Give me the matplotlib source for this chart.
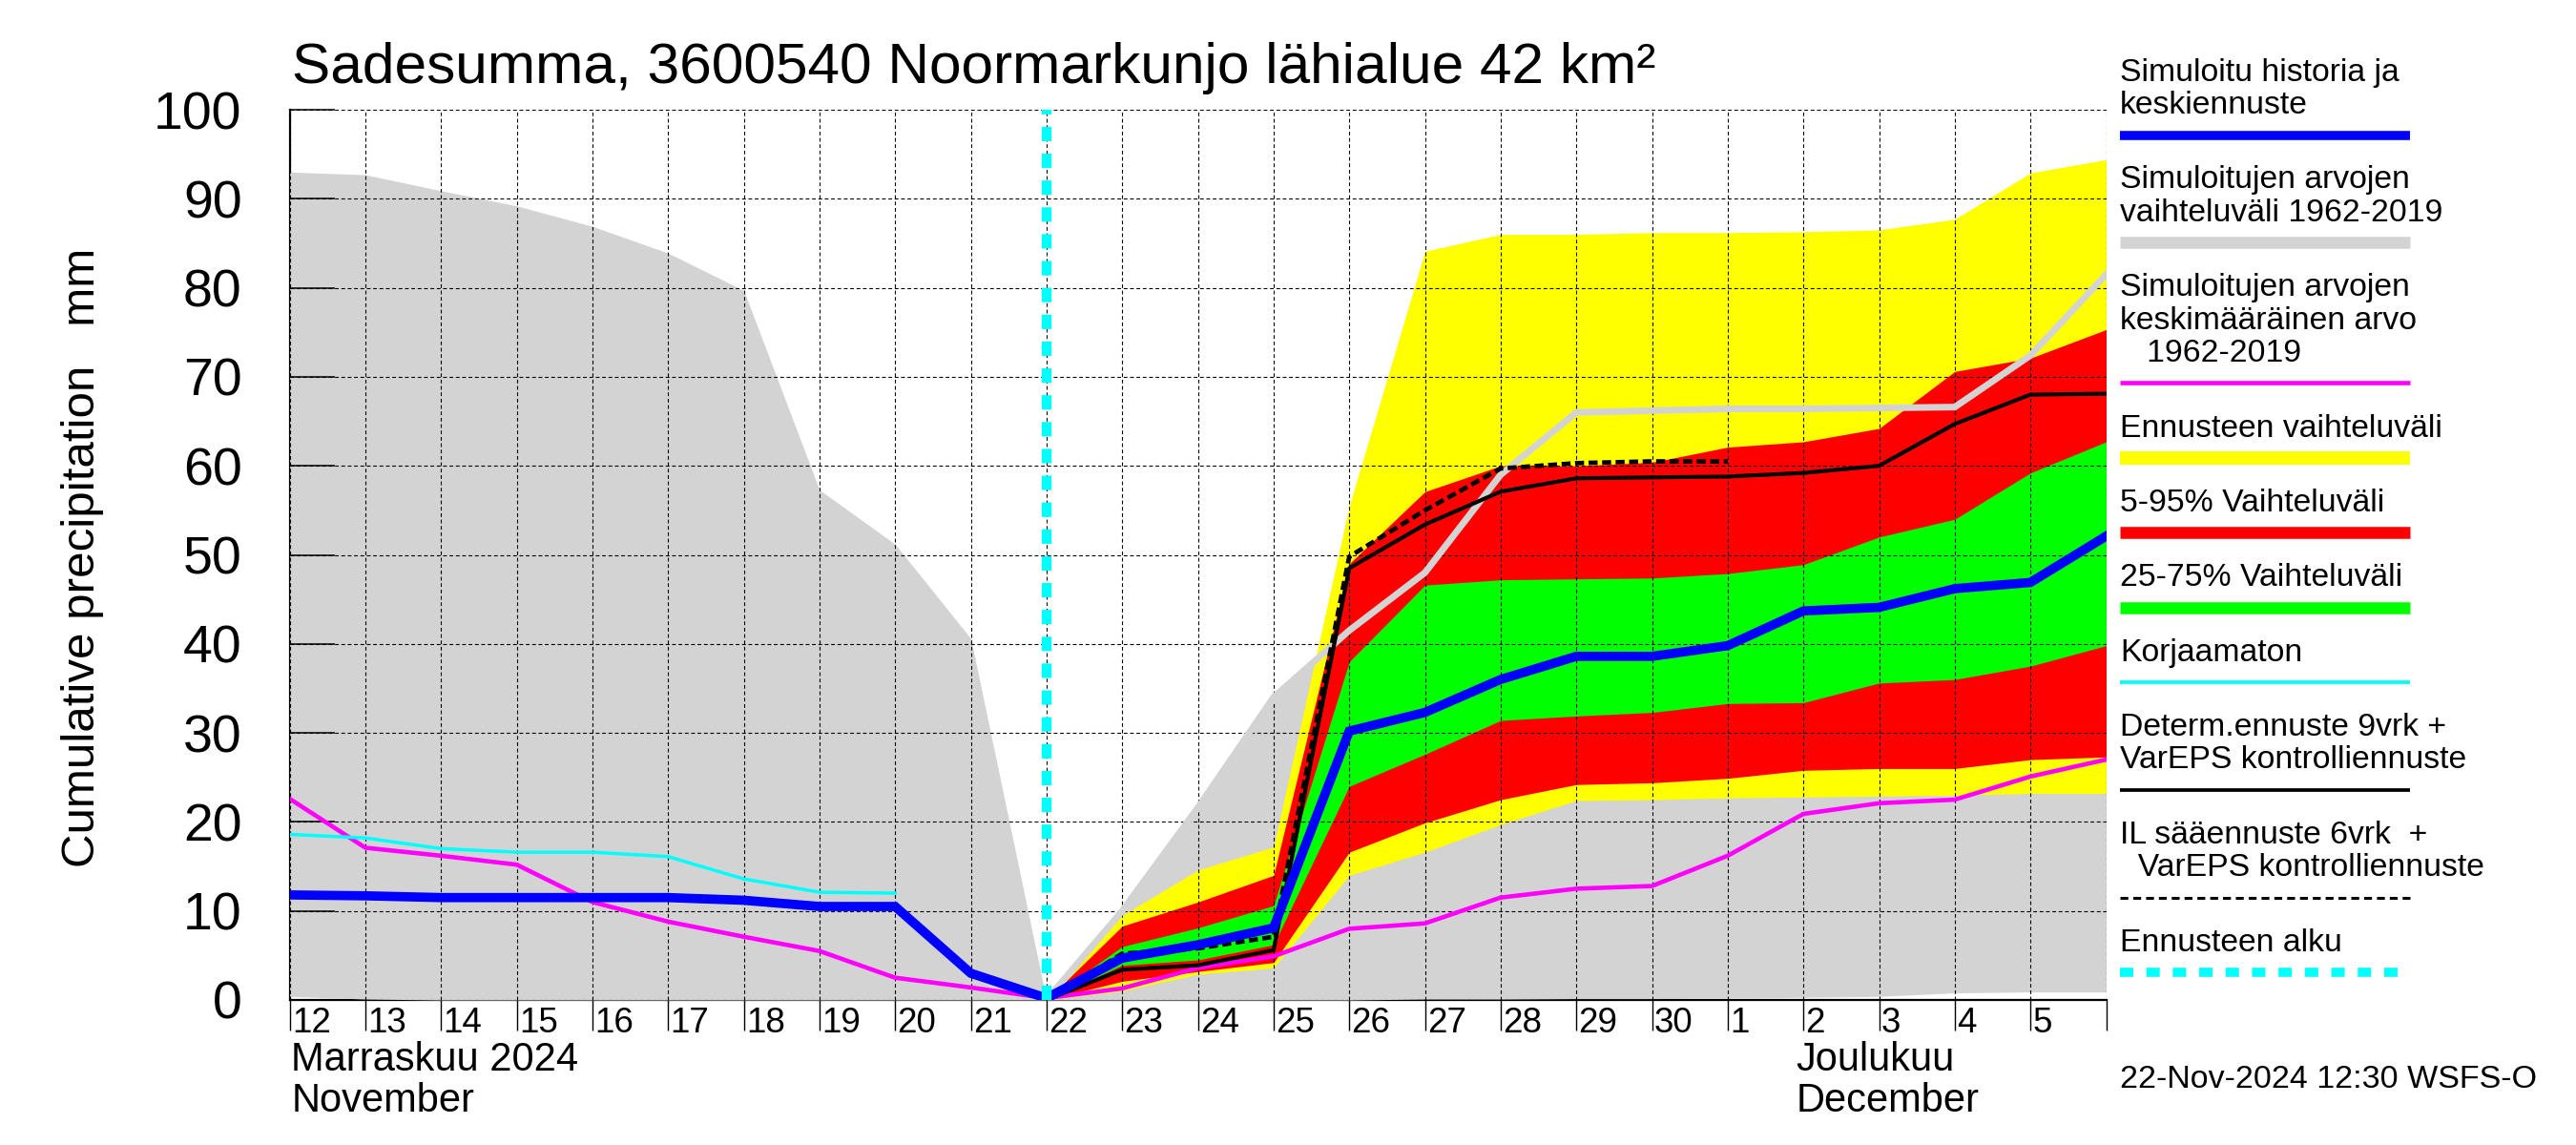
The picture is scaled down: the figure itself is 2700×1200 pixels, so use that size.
import matplotlib
matplotlib.use("Agg")
import matplotlib.pyplot as plt
from matplotlib.lines import Line2D

plt.rcParams['font.family'] = ['Liberation Sans', 'DejaVu Sans']

# päivät 12.11.2024 - 6.12.2024, indeksi 0 = 12.11.
days = list(range(25))
day_labels = ["12", "13", "14", "15", "16", "17", "18", "19", "20", "21", "22",
              "23", "24", "25", "26", "27", "28", "29", "30", "1", "2", "3", "4", "5"]
fc_start = 10  # ennusteen alku 22.11.
fc_days = days[fc_start:]

# simuloitujen arvojen vaihteluväli 1962-2019
hist_hi = [93.0, 92.7, 90.9, 89.2, 86.9, 83.9, 79.7, 57.3, 51.2, 40.6, 0.0,
           10.0, 21.6, 34.0, 41.5, 48.0, 59.0, 66.0, 66.2, 66.4, 66.4, 66.5, 66.6, 72.4, 81.5]
hist_lo = [0.4, 0.1, 0, 0, 0, 0, 0, 0, 0, 0, 0, 0, 0, 0, 0,
           0.1, 0.1, 0.15, 0.15, 0.2, 0.3, 0.4, 0.8, 0.9, 0.9]
# keskimääräinen arvo 1962-2019
hist_mean = [22.6, 17.1, 16.2, 15.2, 11.0, 8.8, 7.1, 5.5, 2.5, 1.4, 0.2,
             1.3, 3.6, 4.9, 8.0, 8.6, 11.5, 12.5, 12.8, 16.2, 20.9, 22.1, 22.5, 25.1, 27.0]
# simuloitu historia ja keskiennuste
sim_mean = [11.8, 11.7, 11.5, 11.5, 11.5, 11.5, 11.2, 10.5, 10.5, 3.0, 0.2,
            4.7, 6.2, 8.1, 30.2, 32.3, 36.0, 38.6, 38.6, 39.8, 43.7, 44.1, 46.2, 46.9, 52.1]
# korjaamaton, 12.-20.11.
korjaamaton = [18.6, 18.2, 17.0, 16.6, 16.6, 16.1, 13.6, 12.1, 12.0]

# ennusteen vaihteluvälit 22.11. -> 6.12.
ens_max = [0, 9.5, 14.6, 17.2, 55.5, 84.1, 86.0, 86.0, 86.2, 86.2, 86.3, 86.5, 87.7, 92.9, 94.4]
ens_min = [0, 1.0, 2.9, 3.6, 14.0, 16.6, 19.7, 22.4, 22.5, 22.7, 22.8, 22.9, 23.0, 23.2, 23.2]
p95 = [0, 8.3, 11.0, 14.0, 49.0, 57.1, 60.0, 60.0, 60.4, 62.1, 62.7, 64.2, 70.6, 72.1, 75.3]
p05 = [0, 2.1, 3.2, 4.2, 16.6, 19.9, 22.5, 24.2, 24.4, 24.9, 25.8, 26.0, 26.0, 27.0, 27.3]
p75 = [0, 6.0, 8.1, 10.6, 38.0, 46.6, 47.2, 47.3, 47.4, 47.9, 48.9, 52.0, 54.0, 59.2, 62.7]
p25 = [0, 3.9, 4.5, 6.2, 24.0, 27.6, 31.4, 31.9, 32.3, 33.3, 33.4, 35.6, 36.0, 37.5, 39.8]
determ = [0, 3.4, 3.9, 5.6, 48.5, 53.4, 57.1, 58.6, 58.7, 58.8, 59.2, 60.0, 64.7, 68.0, 68.1]
il_ennuste = [0, 5.2, 5.8, 7.1, 49.8, 55.0, 59.7, 60.3, 60.5, 60.5]

fig = plt.figure(figsize=(27, 12), dpi=100)
ax = fig.add_axes([303.6 / 2700, 1 - 1048 / 1200, (2207.5 - 303.6) / 2700, 933 / 1200])

ax.fill_between(days, hist_lo, hist_hi, color='#d3d3d3', lw=0, zorder=1)
ax.fill_between(fc_days, ens_min, ens_max, color='#ffff00', lw=0, zorder=1.1)
ax.fill_between(fc_days, p05, p95, color='#ff0000', lw=0, zorder=1.2)
ax.fill_between(fc_days, p25, p75, color='#00ff00', lw=0, zorder=1.3)

ax.plot(fc_days, hist_hi[fc_start:], color='#d3d3d3', lw=5, zorder=3)
ax.plot(days, hist_mean, color='#ff00ff', lw=3.3, zorder=3.2)
ax.plot(days[:len(korjaamaton)], korjaamaton, color='#00ffff', lw=2.5, zorder=3.3)
ax.plot(fc_days, determ, color='black', lw=3, zorder=3.4)
ax.plot(fc_days[:len(il_ennuste)], il_ennuste, color='black', lw=3.4,
        linestyle=(0, (2, 1)), zorder=3.5)
ax.plot(days, sim_mean, color='#0000ff', lw=7, zorder=3.6, solid_joinstyle='miter')
ax.axvline(fc_start, color='#00ffff', lw=7.5, linestyle=(0, (1.45, 1.25)),
           dash_capstyle='butt', zorder=4)

ax.set_xlim(0, 24)
ax.set_ylim(0, 100)
ax.set_axisbelow(False)
grid_style = dict(color='black', linestyle=(0, (3.5, 2.5)), linewidth=0.8)
ax.grid(True, **grid_style)

for s in ['top', 'right']:
    ax.spines[s].set_visible(False)
for s in ['left', 'bottom']:
    ax.spines[s].set_zorder(0.5)
    ax.spines[s].set_linewidth(1.6)

ax.set_yticks(range(0, 101, 10))
ax.tick_params(axis='y', direction='in', length=34, width=1.1, pad=36, labelsize=40)
ax.set_xticks(days)
ax.set_xticklabels([])
ax.tick_params(axis='x', which='major', direction='out', length=23, width=1.0)
ax.set_xticks([19], minor=True)
ax.tick_params(axis='x', which='minor', direction='out', length=48, width=1.0)
ax.xaxis.grid(True, which='minor', **grid_style)

xt = ax.get_xaxis_transform()
for d, lab in zip(days, day_labels):
    ax.text(d + 0.03, (1048 - 1081.7) / 933, lab, transform=xt, ha='left',
            va='baseline', fontsize=26.5)
ax.text(0.02, (1048 - 1121.7) / 933, "Marraskuu 2024", transform=xt, ha='left',
        va='baseline', fontsize=30)
ax.text(0.02, (1048 - 1165) / 933, "November", transform=xt, ha='left',
        va='baseline', fontsize=30)
ax.text(19.9, (1048 - 1121.7) / 933, "Joulukuu", transform=xt, ha='left',
        va='baseline', fontsize=30)
ax.text(19.9, (1048 - 1165) / 933, "December", transform=xt, ha='left',
        va='baseline', fontsize=30)

fig.text(306 / 2700, 1 - 87 / 1200, "Sadesumma, 3600540 Noormarkunjo lähialue 42 km²",
         ha='left', va='baseline', fontsize=43.5)
fig.text(87 / 2700, 1 - 584 / 1200, "Cumulative precipitation   mm", rotation=90,
         ha='center', va='center', fontsize=35.5)

# selite
legend_items = [
    (["Simuloitu historia ja", "keskiennuste"], dict(color='#0000ff', lw=6.9)),
    (["Simuloitujen arvojen", "vaihteluväli 1962-2019"], dict(color='#d3d3d3', lw=9)),
    (["Simuloitujen arvojen", "keskimääräinen arvo", "   1962-2019"], dict(color='#ff00ff', lw=3.3)),
    (["Ennusteen vaihteluväli"], dict(color='#ffff00', lw=10)),
    (["5-95% Vaihteluväli"], dict(color='#ff0000', lw=9)),
    (["25-75% Vaihteluväli"], dict(color='#00ff00', lw=9)),
    (["Korjaamaton"], dict(color='#00ffff', lw=2.7)),
    (["Determ.ennuste 9vrk +", "VarEPS kontrolliennuste"], dict(color='black', lw=2.7)),
    (["IL sääennuste 6vrk  +", "  VarEPS kontrolliennuste"],
     dict(color='black', lw=2.2, linestyle=(0, (2.7, 1.7)))),
    (["Ennusteen alku"], dict(color='#00ffff', lw=6.9, linestyle=(0, (1.46, 1.43)))),
]
lx0, lx1 = 2222 / 2700, 2526 / 2700
y = 72.7
for lines, style in legend_items:
    for t in lines:
        fig.text(lx0, 1 - (y + 12) / 1200, t, ha='left', va='baseline', fontsize=24.3)
        y += 34.4
    fig.add_artist(Line2D([lx0, lx1], [1 - y / 1200] * 2, transform=fig.transFigure,
                          solid_capstyle='butt', dash_capstyle='butt', **style))
    y += 44

fig.text(lx0, 1 - 1139.6 / 1200, "22-Nov-2024 12:30 WSFS-O", ha='left',
         va='baseline', fontsize=24.5)

fig.savefig("out.png", dpi=100)
